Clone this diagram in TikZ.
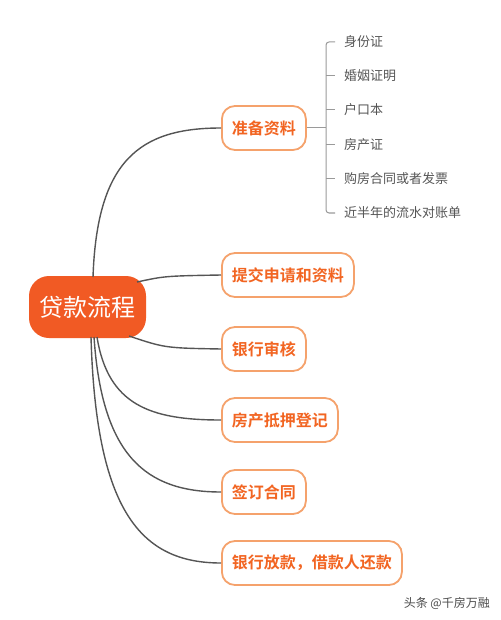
\documentclass[tikz,border=0pt]{standalone}
\usepackage{fontspec}
\setmainfont{Noto Sans CJK SC}
\newfontfamily\cjk{Noto Sans CJK SC}
\newfontfamily\cjkb{Noto Sans CJK SC Bold}
\usetikzlibrary{calc}
\definecolor{mainorange}{HTML}{F15A24}
\definecolor{branchtext}{HTML}{F26522}
\definecolor{branchborder}{HTML}{F5A26C}
\definecolor{conn}{HTML}{555555}
\definecolor{leafline}{HTML}{9A9A9A}
\definecolor{leaftext}{HTML}{555555}
\tikzset{
  rootbox/.style={fill=mainorange, rounded corners=20pt, minimum width=117pt, minimum height=62pt, inner sep=0pt, text=white, font=\cjk\fontsize{24}{24}\selectfont},
  branchbox/.style={draw=branchborder, line width=1.8pt, fill=white, rounded corners=13pt, minimum height=44pt, inner xsep=10pt, inner ysep=0pt, text=branchtext, font=\cjkb\fontsize{16}{16}\selectfont},
  leaf/.style={anchor=west, inner sep=0pt, text=leaftext, font=\cjk\fontsize{13}{13}\selectfont},
  connector/.style={draw=conn, line width=1.4pt},
  bracket/.style={draw=leafline, line width=1pt},
}
\begin{document}
\begin{tikzpicture}[x=1pt,y=-1pt]
\useasboundingbox (0,0) rectangle (500,620);
\fill[white] (0,0) rectangle (500,620);

\node[rootbox] (root) at (87.5,307) {贷款流程};

\node[branchbox, anchor=west] (b1) at (221,128) {准备资料};
\node[branchbox, anchor=west] (b2) at (221,275) {提交申请和资料};
\node[branchbox, anchor=west] (b3) at (221,349) {银行审核};
\node[branchbox, anchor=west] (b4) at (221,420) {房产抵押登记};
\node[branchbox, anchor=west] (b5) at (221,492) {签订合同};
\node[branchbox, anchor=west] (b6) at (221,563) {银行放款，借款人还款};

% connectors
\coordinate (s1) at (93,277);
\coordinate (s2) at (137,282);
\coordinate (s3) at (129,336);
\coordinate (s4) at (97,337);
\coordinate (s5) at (94,337);
\coordinate (s6) at (91,337);
\draw[connector] (s1) .. controls (97,160) and (140,128) .. (b1.west);
\draw[connector] (s2) .. controls (165,276) .. (b2.west);
\draw[connector] (s3) .. controls (165,348) .. (b3.west);
\draw[connector] (s4) .. controls (108,405) and (150,420) .. (b4.west);
\draw[connector] (s5) .. controls (102,455) and (145,492) .. (b5.west);
\draw[connector] (s6) .. controls (96,510) and (140,563) .. (b6.west);

% leaves
\node[leaf] (l1) at (344,42) {身份证};
\node[leaf] (l2) at (344,76) {婚姻证明};
\node[leaf] (l3) at (344,110) {户口本};
\node[leaf] (l4) at (344,145) {房产证};
\node[leaf] (l5) at (344,179) {购房合同或者发票};
\node[leaf] (l6) at (344,213) {近半年的流水对账单};

\coordinate (bx) at (326,128);
\draw[bracket] (b1.east) -- (bx);
\draw[bracket, rounded corners=3pt] ($(l1.west)+(-9,0)$) -- (326,42) -- (326,213) -- ($(l6.west)+(-9,0)$);
\draw[bracket] (326,76) -- ($(l2.west)+(-9,0)$);
\draw[bracket] (326,110) -- ($(l3.west)+(-9,0)$);
\draw[bracket] (326,145) -- ($(l4.west)+(-9,0)$);
\draw[bracket] (326,179) -- ($(l5.west)+(-9,0)$);

% watermark
\node[anchor=east, inner sep=0pt, text=black!70, font=\cjk\fontsize{12}{12}\selectfont] (wm) at (490,603) {头条 @千房万融};
\end{tikzpicture}
\end{document}
